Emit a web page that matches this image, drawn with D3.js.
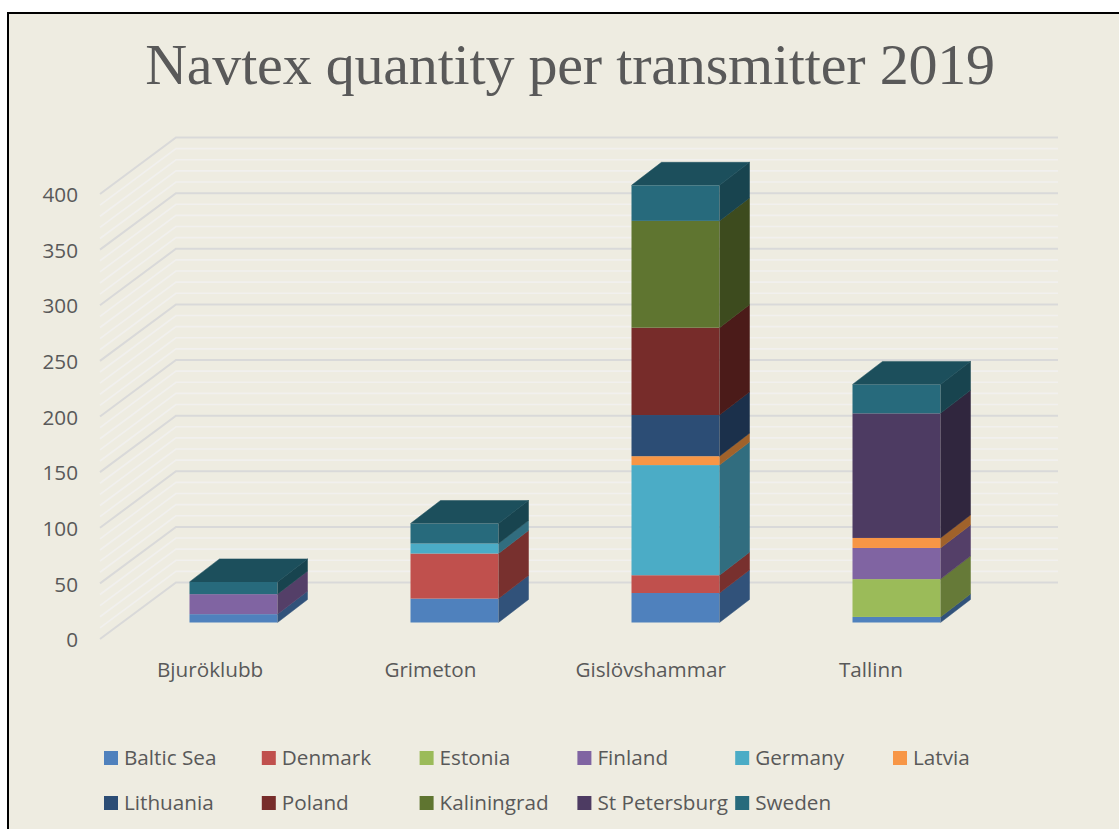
<!DOCTYPE html>
<html>
<head>
<meta charset="utf-8">
<script src="https://cdn.jsdelivr.net/npm/d3@7"></script>
<style>
  html, body { margin: 0; padding: 0; background: #fff; overflow: hidden; }
</style>
</head>
<body>
<div id="chart"></div>
<script>
// chart values
const stations = ["Bjuröklubb", "Grimeton", "Gislövshammar", "Tallinn"];
const countries = ["Baltic Sea", "Denmark", "Estonia", "Finland", "Germany", "Latvia",
                   "Lithuania", "Poland", "Kaliningrad", "St Petersburg", "Sweden"];
const colors = ["#4F81BD", "#C0504D", "#9BBB59", "#8064A2", "#4BACC6", "#F79646",
                "#2C4D75", "#772C2A", "#5F7530", "#4D3B62", "#276A7C"];
const sideColors = ["#31527A", "#78302E", "#667A38", "#543F68", "#316D7F", "#A0622B",
                    "#1B304B", "#4B1B19", "#3D4B1E", "#30263E", "#18444F"];
const topColor = "#1C4F5C";

const balticSea   = [7.5, 21.5, 26.5, 5];
const denmark     = [0, 40.5, 16, 0];
const estonia     = [0, 0, 0, 34];
const finland     = [18, 0, 0, 28];
const germany     = [0, 9, 99, 0];
const latvia      = [0, 0, 8, 9];
const lithuania   = [0, 0, 37, 0];
const poland      = [0, 0, 78.5, 0];
const kaliningrad = [0, 0, 96, 0];
const stPetersburg = [0, 0, 0, 112];
const sweden      = [11, 18, 32, 26];
const series = [balticSea, denmark, estonia, finland, germany, latvia,
                lithuania, poland, kaliningrad, stPetersburg, sweden];

const yTicks = d3.range(0, 401, 50);
const minorTicks = d3.range(0, 401, 10).filter(d => d % 50 !== 0);

const width = 1119, height = 829;
const labelFont = "Open Sans";
const labelSize = 20.7;
const textColor = "#595959";

const svg = d3.select("#chart").append("svg")
    .attr("width", width)
    .attr("height", height)
    .style("display", "block");

// panel runs off the right and bottom of the page, so only two edges show
svg.append("rect")
    .attr("x", 8).attr("y", 13)
    .attr("width", width - 8).attr("height", height - 13)
    .attr("fill", "#EEECE1");
svg.append("path")
    .attr("d", d3.line()([[8, height], [8, 13], [width, 13]]))
    .attr("fill", "none")
    .attr("stroke", "#000")
    .attr("stroke-width", 2);

svg.append("text")
    .attr("x", 570).attr("y", 84)
    .attr("text-anchor", "middle")
    .attr("font-family", "Liberation Serif")
    .attr("font-size", 58)
    .attr("letter-spacing", -0.2)
    .attr("fill", textColor)
    .text("Navtex quantity per transmitter 2019");

// front plane of the 3d box, the labels sit slightly tighter than the bars
const x = d3.scaleBand().domain(stations).range([100, 981]);
const xBars = d3.scaleBand().domain(stations).range([100, 984]);
const y = d3.scaleLinear().domain([0, 400]).range([639, 194]);

// depth of the box and of the bars
const wallDx = 76, wallDy = -56.5;
const barOffsetX = 23, barOffsetY = -16.5;
const barDx = 30, barDy = -23;
const barWidth = 88;

const grid = svg.append("g").attr("fill", "none");

function gridLine(d) {
    const p = d3.path();
    p.moveTo(100, y(d));
    p.lineTo(100 + wallDx, y(d) + wallDy);
    p.lineTo(982 + wallDx, y(d) + wallDy);
    return p.toString();
}

grid.selectAll(".minor")
    .data(minorTicks)
    .join("path")
    .attr("class", "minor")
    .attr("d", gridLine)
    .attr("stroke", "#F1F0EE")
    .attr("stroke-width", 1.6);

grid.selectAll(".major")
    .data(yTicks)
    .join("path")
    .attr("class", "major")
    .attr("d", gridLine)
    .attr("stroke", "#D9D9D9")
    .attr("stroke-width", 2);

// axes only carry the labels
svg.append("g")
    .attr("transform", "translate(85,1)")
    .call(d3.axisLeft(y).tickValues(yTicks).tickSize(0).tickPadding(7))
    .call(g => g.select(".domain").remove())
    .call(g => g.selectAll("text").attr("font-size", labelSize).attr("font-family", labelFont).attr("fill", textColor));

svg.append("g")
    .attr("transform", "translate(0,662)")
    .call(d3.axisBottom(x).tickSize(0).tickPadding(0))
    .call(g => g.select(".domain").remove())
    .call(g => g.selectAll("text").attr("font-size", labelSize).attr("font-family", labelFont).attr("fill", textColor));

// stack the series, one column per station
const rows = stations.map((s, i) => {
    const row = { station: s };
    countries.forEach((c, k) => { row[c] = series[k][i]; });
    return row;
});
const stacked = d3.stack().keys(countries)(rows);

const bars = svg.append("g");

stations.forEach((s, i) => {
    const x0 = xBars(s) + (xBars.bandwidth() - barWidth) / 2 + barOffsetX;
    const x1 = x0 + barWidth;
    const col = bars.append("g");
    let topValue = 0;

    stacked.forEach((layer, k) => {
        const d = layer[i];
        if (d[1] - d[0] <= 0) return;
        topValue = d[1];
        const yb = y(d[0]) + barOffsetY;
        const yt = y(d[1]) + barOffsetY;
        col.append("rect")
            .attr("x", x0).attr("y", yt)
            .attr("width", barWidth).attr("height", yb - yt)
            .attr("fill", colors[k]);
        col.append("path")
            .attr("d", d3.line()([[x1, yb], [x1 + barDx, yb + barDy], [x1 + barDx, yt + barDy], [x1, yt]]))
            .attr("fill", sideColors[k])
            .attr("stroke", sideColors[k])
            .attr("stroke-width", 0.5);
    });

    const yt = y(topValue) + barOffsetY;
    col.append("path")
        .attr("d", d3.line()([[x0, yt], [x0 + barDx, yt + barDy], [x1 + barDx, yt + barDy], [x1, yt]]))
        .attr("fill", topColor)
        .attr("stroke", topColor)
        .attr("stroke-width", 0.5);
});

// legend, two rows of six columns
const legendX = d3.scalePoint().domain(d3.range(6)).range([104, 104 + 5 * 157.8]);
const legendY = d3.scalePoint().domain([0, 1]).range([758, 803]);

const legend = svg.append("g");
const items = legend.selectAll("g")
    .data(countries)
    .join("g")
    .attr("transform", (d, i) => `translate(${legendX(i % 6)},${legendY(Math.floor(i / 6))})`);

items.append("rect")
    .attr("x", 0).attr("y", -7)
    .attr("width", 14).attr("height", 14)
    .attr("fill", (d, i) => colors[i]);

items.append("text")
    .attr("x", 20).attr("y", 7)
    .attr("font-family", labelFont)
    .attr("font-size", labelSize)
    .attr("fill", textColor)
    .text(d => d);
</script>
</body>
</html>
